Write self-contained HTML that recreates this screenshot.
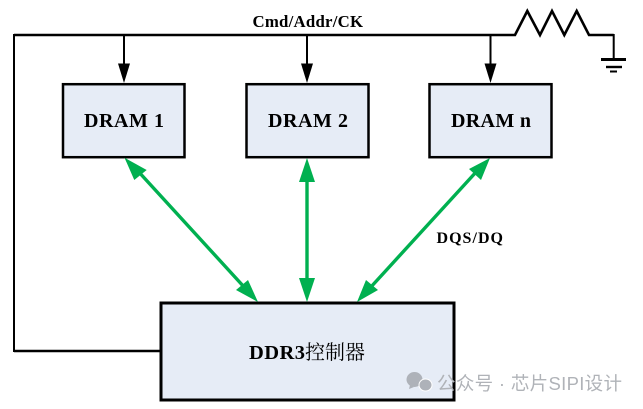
<!DOCTYPE html>
<html><head><meta charset="utf-8"><style>
html,body{margin:0;padding:0;background:#fff;width:643px;height:409px;overflow:hidden}
svg{display:block}
text{font-family:"Liberation Serif","Noto Serif CJK SC",serif;fill:#000}
</style></head><body>
<svg width="643" height="409" viewBox="0 0 643 409" xmlns="http://www.w3.org/2000/svg">
<g fill="none" stroke="#000" stroke-width="2.6">
<path d="M161 351H14M14 35H515L527.3 11 540 35 552 11 564.3 35 576.7 11 589 35H613.7" stroke-linejoin="miter"/>
<path d="M14 34V352M613.7 34V60" stroke-width="2"/>
<path d="M124 35V66M307 35V66M490.5 35V66" stroke-width="2"/>
<path d="M601 59.5H626" stroke-width="3"/><path d="M606 67H622" stroke-width="2.4"/><path d="M610 71.5H617" stroke-width="2"/>
</g>
<g fill="#000">
<path d="M118 63.5H130L124 83Z"/><path d="M301 63.5H313L307 83Z"/><path d="M484.5 63.5H496.5L490.5 83Z"/>
</g>
<g fill="#e6ecf6" stroke="#000" stroke-width="2.5">
<rect x="63" y="84.2" width="121.5" height="73"/>
<rect x="246.5" y="84.2" width="122" height="73"/>
<rect x="429.5" y="84.2" width="122" height="73"/>
<rect x="161" y="303" width="293" height="97" stroke-width="3"/>
</g>
<g stroke="#00b050" stroke-width="3.4" fill="none">
<path d="M137 170L245 288"/>
<path d="M307 178V282"/>
<path d="M477 171L370 288"/>
</g>
<g fill="#00b050">
<path d="M124.5 157.7L146.7 170 134.3 180Z"/>
<path d="M258 302L236 290 248 280Z"/>
<path d="M307 158L315 182H299Z"/>
<path d="M307 302L299 278H315Z"/>
<path d="M490 158L481 180 469 169Z"/>
<path d="M357 302L378 290 366 280Z"/>
</g>
<g font-weight="bold">
<text x="84" y="127" font-size="20" textLength="80">DRAM 1</text>
<text x="268" y="127" font-size="20" textLength="80">DRAM 2</text>
<text x="451" y="127" font-size="20" textLength="80">DRAM n</text>
<text x="252.5" y="27" font-size="16.8" textLength="110.5">Cmd/Addr/CK</text>
<text x="436.5" y="243" font-size="16" textLength="66.5">DQS/DQ</text>
</g>
<text x="249" y="359" font-size="20.5" font-weight="bold" textLength="56">DDR3</text>
<text x="305" y="359" font-size="20" style="font-family:'Noto Serif CJK SC',serif" textLength="60">控制器</text>
<g fill="#aeb2b9">
<ellipse cx="414.5" cy="379.5" rx="8" ry="7.5"/>
<path d="M410 385l-1 4 5-2z"/>
<ellipse cx="425.5" cy="385" rx="6.5" ry="6" stroke="#fff" stroke-width="1"/>
</g>
<text x="437" y="390" font-size="18.5" textLength="185" style="font-family:'Liberation Sans','Noto Sans CJK SC',sans-serif;fill:#b0b3b8">公众号 · 芯片SIPI设计</text>
</svg>
</body></html>
